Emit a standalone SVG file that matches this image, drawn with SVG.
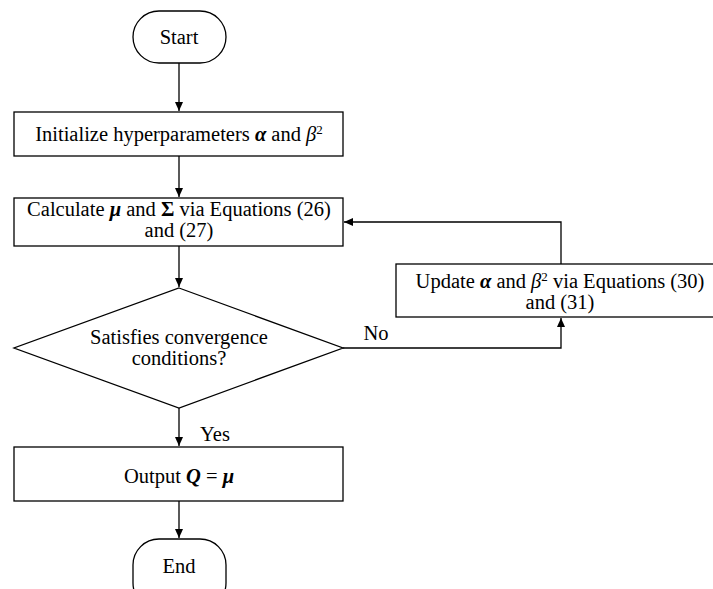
<svg xmlns="http://www.w3.org/2000/svg" width="713" height="589" viewBox="0 0 713 589">
<defs>
<marker id="ah" markerWidth="10" markerHeight="10" refX="9" refY="5" orient="auto" markerUnits="userSpaceOnUse">
<path d="M0,1 L9,5 L0,9 Z" fill="#000"/>
</marker>
<style>
.s{fill:#fff;stroke:#000;stroke-width:1.3}
.c{fill:none;stroke:#000;stroke-width:1.3}
text{font-family:"Liberation Serif","DejaVu Serif",serif;font-size:20.5px;fill:#000;text-anchor:middle}
.b{font-weight:bold;font-style:italic}
.i{font-style:italic}
</style>
</defs>
<rect width="713" height="589" fill="#fff"/>
<g id="connectors">
<line class="c" x1="179" y1="63" x2="179" y2="111" marker-end="url(#ah)"/>
<line class="c" x1="179" y1="156" x2="179" y2="197" marker-end="url(#ah)"/>
<line class="c" x1="179" y1="246" x2="179" y2="287" marker-end="url(#ah)"/>
<line class="c" x1="179" y1="408" x2="179" y2="446" marker-end="url(#ah)"/>
<line class="c" x1="179" y1="501" x2="179" y2="538" marker-end="url(#ah)"/>
<polyline class="c" points="343,348 561,348 561,318" marker-end="url(#ah)"/>
<polyline class="c" points="561,264 561,222 344,222" marker-end="url(#ah)"/>
<text x="376" y="340">No</text>
<text x="215" y="441">Yes</text>
</g>
<g id="start">
<rect class="s" x="133" y="11" width="93" height="52" rx="26" ry="26"/>
<text x="179" y="44">Start</text>
</g>
<g id="init">
<rect class="s" x="14" y="112" width="329" height="44"/>
<text x="179" y="141">Initialize hyperparameters <tspan class="b">α</tspan> and <tspan class="i">β</tspan><tspan font-size="13" dy="-7">2</tspan></text>
</g>
<g id="calc">
<rect class="s" x="14" y="198" width="329" height="48"/>
<text x="179" y="216">Calculate <tspan class="b">μ</tspan> and <tspan font-weight="bold">Σ</tspan> via Equations (26)</text>
<text x="179" y="237">and (27)</text>
</g>
<g id="decision">
<polygon class="s" points="179,288 343,348 179,408 14,348"/>
<text x="179" y="344">Satisfies convergence</text>
<text x="179" y="365">conditions?</text>
</g>
<g id="update">
<rect class="s" x="396" y="264" width="330" height="53"/>
<text x="560" y="288">Update <tspan class="b">α</tspan> and <tspan class="i">β</tspan><tspan font-size="13" dy="-7">2</tspan><tspan dy="7"> via Equations (30)</tspan></text>
<text x="560" y="309">and (31)</text>
</g>
<g id="output">
<rect class="s" x="14" y="447" width="329" height="54"/>
<text x="179" y="483">Output <tspan class="b">Q</tspan> = <tspan class="b">μ</tspan></text>
</g>
<g id="end">
<rect class="s" x="133" y="539" width="93" height="70" rx="26" ry="26"/>
<text x="179" y="573">End</text>
</g>
</svg>
